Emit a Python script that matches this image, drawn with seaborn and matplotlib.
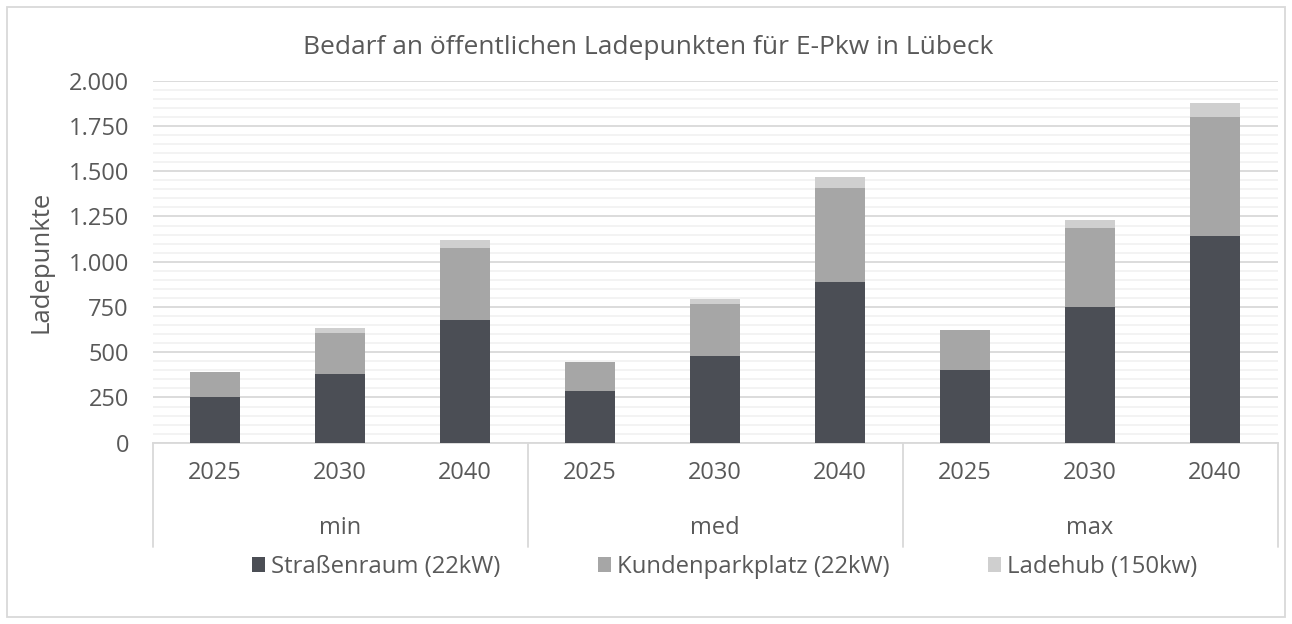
import matplotlib
matplotlib.use("Agg")
import matplotlib.pyplot as plt
import seaborn as sns
import pandas as pd
import numpy as np
from matplotlib.patches import Rectangle, Patch
from matplotlib.ticker import MultipleLocator, FuncFormatter
import matplotlib.transforms as mtransforms

sns.set_theme(style="white")
plt.rcParams['font.family'] = ['Open Sans', 'DejaVu Sans']

# ---- data ----
groups = ["min", "med", "max"]
years = ["2025", "2030", "2040"]
strassenraum = [250, 380, 680, 286, 480, 890, 400, 748, 1140]
kundenparkplatz = [140, 224, 396, 160, 285, 517, 225, 436, 661]
ladehub = [0, 30, 44, 0, 30, 63, 0, 48, 74]
series_names = ["Straßenraum (22kW)", "Kundenparkplatz (22kW)", "Ladehub (150kw)"]
colors = ["#4b4e55", "#a6a6a6", "#cfcfcf"]
title = "Bedarf an öffentlichen Ladepunkten für E-Pkw in Lübeck"
ylabel = "Ladepunkte"

keys = [f"{g} {y}" for g in groups for y in years]
s = np.array(strassenraum)
k = np.array(kundenparkplatz)
l = np.array(ladehub)
df = pd.DataFrame({"key": keys, "s": s, "sk": s + k, "skl": s + k + l})

W, H = 1292, 624
fig = plt.figure(figsize=(W / 100, H / 100), dpi=100)
ax = fig.add_axes([152.5 / W, 1 - 442.7 / H, (1277.5 - 152.5) / W, (442.7 - 80.7) / H])

text_color = "#595959"

for col, c in zip(["skl", "sk", "s"], [colors[2], colors[1], colors[0]]):
    sns.barplot(data=df, x="key", y=col, order=keys, color=c, width=0.4,
                saturation=1, ax=ax, edgecolor="none", linewidth=0, zorder=3)

ax.set_ylim(0, 2000)
ax.set_xlim(-0.5, 8.5)
ax.yaxis.set_major_locator(MultipleLocator(250))
ax.yaxis.set_minor_locator(MultipleLocator(50))
ax.yaxis.set_major_formatter(FuncFormatter(lambda v, p: f"{int(v):,}".replace(",", ".")))
ax.grid(axis="y", which="minor", color="#f2f2f2", linewidth=1.3, zorder=0)
ax.grid(axis="y", which="major", color="#d9d9d9", linewidth=1.3, zorder=1)
ax.set_axisbelow(True)
for sp in ["top", "right", "left"]:
    ax.spines[sp].set_visible(False)
ax.spines["bottom"].set_color("#d9d9d9")
ax.spines["bottom"].set_linewidth(1.3)
ax.tick_params(axis="both", length=0, labelsize=17, colors=text_color)
ax.tick_params(axis="y", pad=17)
ax.tick_params(axis="x", pad=13)
ax.set_xticks(range(9))
ax.set_xticklabels(years * 3)
ax.set_xlabel("")
ax.set_ylabel(ylabel, fontsize=18.5, color=text_color)
ax.yaxis.set_label_coords((53 - 152.5) / 1125, 0.5)

# group separators and labels
trans = mtransforms.blended_transform_factory(ax.transData, ax.transAxes)
ybot = -(547 - 442.7) / (442.7 - 80.7)
for xs in [-0.5, 2.5, 5.5, 8.5]:
    ax.plot([xs, xs], [0, ybot], transform=trans, color="#d9d9d9", lw=1.3, clip_on=False)
ygrp = -(528 - 442.7) / (442.7 - 80.7)
for i, g in enumerate(groups):
    ax.text(i * 3 + 1, ygrp, g, transform=trans, ha="center", va="center",
            fontsize=17, color=text_color)

fig.text(0.5 * (300 + 997) / W, 1 - 48 / H, title, ha="center", va="center",
         fontsize=19, color=text_color)

# legend entries, one per series
legend_x = [252, 598, 988]
for name, c, xl in zip(series_names, colors, legend_x):
    fig.legend([Patch(facecolor=c, edgecolor="none")], [name], loc="center left",
               bbox_to_anchor=(xl / W, 1 - 567 / H), frameon=False, fontsize=17.2,
               labelcolor=text_color, handlelength=0.55, handleheight=0.55,
               handletextpad=0.25, borderpad=0, borderaxespad=0)

fig.patches.append(Rectangle((7 / W, 7 / H), (W - 14) / W, (H - 14) / H,
                             transform=fig.transFigure, fill=False,
                             edgecolor="#d9d9d9", linewidth=1.3))

fig.savefig("out.png", dpi=100)
